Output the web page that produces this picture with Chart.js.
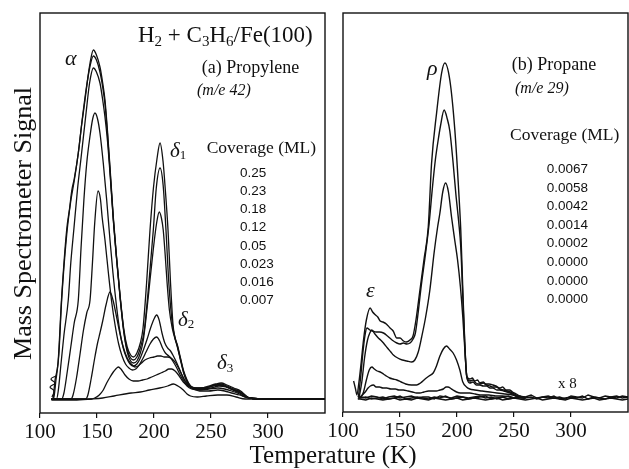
<!DOCTYPE html>
<html><head><meta charset="utf-8">
<script src="https://cdn.jsdelivr.net/npm/chart.js@4.4.1/dist/chart.umd.min.js"></script>
<style>
html,body{margin:0;padding:0;background:#fff;}
#wrap{position:relative;width:629px;height:469px;overflow:hidden;background:#fff;}
canvas{position:absolute;left:0;top:0;}
</style></head><body>
<div id="wrap"><canvas id="cA" width="629" height="469"></canvas><canvas id="cB" width="629" height="469"></canvas></div>
<script>
// ---------- tick labels / legends ----------
const tickTemps = [100, 150, 200, 250, 300];
const coverageA = ['0.25', '0.23', '0.18', '0.12', '0.05', '0.023', '0.016', '0.007'];
const coverageB = ['0.0067', '0.0058', '0.0042', '0.0014', '0.0002', '0.0000', '0.0000', '0.0000'];

// ---------- (a) Propylene m/e 42 : [T (K), signal] ----------
const propylene025 = [[110,14],[111.4,15],[113.2,33],[115.8,50],[119,116],[123.4,183],[126,205],[127.8,222],[130,234],[133.6,260],[136.5,288],[139.5,313],[141.7,333],[143.9,350],[146.8,363],[149.5,358],[152.6,346],[155,330],[157,313],[159.2,282],[161.4,246],[164.3,196],[167,158],[170.2,118],[173.5,84],[176.5,66],[179.5,58],[182,56],[185,60],[188,70],[190.4,85],[193.5,130],[196.5,183],[199.5,225],[202.6,254],[205.3,270],[207.9,252],[210,222],[212.3,183],[214.5,130],[216.7,88],[218.5,75],[220.5,68],[223,56],[226,42],[229,33],[232,27],[236,25],[242,25],[248,27],[254,29],[259,30],[264,28],[270,25],[276,22],[280,18],[284,15],[300,14],[350,14]];
const propylene023 = [[110,14],[112,15],[114,33],[116.5,58],[119,113],[123.4,178],[127,212],[130,232],[133.6,260],[137,293],[140,320],[143.9,347],[146.8,357],[149.5,353],[152.6,341],[155,326],[157,309],[159.2,279],[161.4,243],[164.3,194],[167,157],[170.2,117],[173.5,82],[176.5,63],[179.5,55],[182,53],[185,56],[188,65],[191.5,83],[195.5,130],[199.4,183],[202,225],[205.3,245],[208,228],[210.5,183],[213,130],[216,90],[218.5,75],[220.5,67],[223,55],[226,41],[229,32],[232,27],[236,24],[242,24],[248,26],[254,28],[259,29],[264,27],[270,24],[276,21],[280,17],[284,15],[300,14],[350,14]];
const propylene018 = [[110,14],[114.5,14],[116,22],[118.5,50],[121,78],[124.8,113],[127,150],[129.8,185],[133,225],[136,255],[140.4,300],[143.5,330],[146.8,345],[149.5,341],[152.6,330],[155,313],[157,296],[159.2,272],[161.4,240],[164.3,193],[167,156],[170.2,116],[173.5,81],[176.5,61],[179.5,52],[182,50],[185,52],[188,60],[190.5,72],[193,95],[196.5,133],[199.5,165],[202.3,190],[204.6,201],[206.5,195],[208.1,183],[210,155],[211.5,130],[213.5,103],[216,85],[218.5,74],[220.5,66],[223,54],[226,40],[229,31],[232,26],[236,24],[242,24],[248,26],[254,28],[259,28],[264,26],[270,23],[276,20],[280,17],[284,15],[300,14],[350,14]];
const propylene012 = [[110,14],[119,14],[121,20],[124,42],[127,66],[130,90],[133.6,113],[136,165],[138.5,213],[141,250],[144,278],[146.2,294],[148.2,300],[150.5,294],[152.6,280],[155.5,250],[158.5,213],[161.4,173],[164,140],[167,108],[170,82],[173,65],[176,55],[179,49],[182,47],[185,49],[188,55],[191,64],[194,74],[197,85],[200,94],[202.3,98],[204.5,93],[207,80],[209.5,70],[212,65],[214.5,62],[217,57],[220,50],[223,42],[226,34],[229,29],[233,26],[240,25],[248,26],[256,28],[262,27],[268,24],[275,21],[280,17],[284,15],[300,14],[350,14]];
const propylene005 = [[110,14],[127,14],[129,18],[132,35],[135,58],[138,82],[141,100],[143.9,113],[146,150],[148,190],[150.9,222],[153,214],[154.5,196],[157,173],[160,140],[163,110],[166,87],[169,69],[172,57],[175,49],[178,45],[181,43],[184,44],[187,48],[190,54],[193,61],[196.5,69],[199.5,74],[202.3,76],[205,72],[207.5,65],[210,60],[213,57],[216,54],[219,50],[222,44],[225,37],[228,31],[231,27],[235,25],[242,24],[250,25],[257,27],[263,26],[269,23],[275,20],[280,17],[284,15],[300,14],[350,14]];
const propylene0023 = [[110,14],[140,14],[142,18],[145,35],[148,55],[150.5,70],[152.6,80],[155,92],[157.9,108],[161.4,121],[164,113],[167.2,96],[170,80],[173,66],[176.5,55],[180,49],[183.3,46],[186,47],[189,50],[192,53],[196,55],[200,56],[203,57],[206,57],[209,56],[212,56],[214.5,55],[217,51],[220,45],[223,38],[226,32],[229,27],[233,24],[240,23],[248,24],[256,25],[262,24],[268,22],[275,19],[280,16],[284,15],[300,14],[350,14]];
const propylene0016 = [[110,14],[145,14],[148,15],[152,18],[155.5,23],[158.5,30],[161.5,36],[164.3,41],[166.5,44],[168.7,46],[171,44],[174.6,38],[178,34],[181.8,32],[186,32],[190,33],[194,34],[198,36],[202,38],[206,40],[210,42],[213,44],[215.5,44],[218.5,42],[221.5,38],[225.7,31],[230,27],[234.5,24],[240,22],[248,22],[256,23],[262,22],[268,20],[275,18],[280,16],[284,15],[300,14],[350,14]];
const propylene0007 = [[110,13],[130,13],[145,14],[155,15],[165,17],[180,20],[188,21],[196,23],[205,25],[212,27],[217,29],[221,27],[225.7,23],[229,19],[232,17],[238,16],[246,17],[256,18],[264,18],[272,16],[280,14],[300,14],[350,14]];
const propyleneStartWiggle = [[114,37],[109.6,34],[113.2,30],[108.8,26],[112.3,22],[110.5,16]];

// ---------- (b) Propane m/e 29 (x 8) ----------
const propane0067 = [[109.3,31],[111,23],[112.2,17],[114,30],[116,50],[118,72],[120.5,92],[123.8,104],[126,100],[128.5,97],[130.5,95],[132.6,91],[135,90],[138,88],[141.3,84],[144,81],[147.2,74],[150,74],[153,71],[155.5,70],[158.8,72],[161.4,76],[164,92],[167.5,122],[171,152],[174.8,185],[177.7,249],[182.1,299],[186.5,339],[189.3,349],[193.7,332],[198.1,282],[201.8,215],[203.3,182],[205.1,122],[206.8,70],[208.6,36],[211.2,33],[213.5,34],[215.5,31],[218,32],[220,29],[223,30],[225,28],[228,28],[231.5,27],[234,26],[237.4,24],[240,25],[243,22],[246,22],[248.7,20],[252,18],[255,16],[260,15]];
const propane0058 = [[113.5,15],[115.5,35],[117.5,60],[119.5,78],[121,84],[123.5,82],[126,81],[129,80],[132,80],[135.5,79],[139,76],[143,72],[147.2,69],[150,68],[153,69],[156,68],[158.8,69],[161.5,73],[163.5,79],[166,100],[168.5,125],[172,155],[175.5,188],[178.5,225],[181,252],[183.5,272],[185.5,286],[188.7,302],[191.5,293],[193.7,281],[196.6,249],[199,218],[201.5,190],[203.3,165],[205.1,115],[206.8,68],[208.6,35],[211.2,31],[214,32],[216.5,29],[220,28],[223,29],[226,27],[229,26],[231.5,25],[234.5,25],[237.4,23],[241,22],[244,21],[248.7,19],[252,17],[255,15],[260,14]];
const propane0042 = [[114,14],[116.5,30],[119,55],[121.5,72],[123.5,79],[125.3,82],[128,78],[131,74],[133,72],[135.5,69],[139,64],[142,60],[144.2,57],[148,54],[152,52],[156,51],[160.3,50],[163,52],[166,60],[169,75],[172.5,95],[176.2,122],[180,160],[183,185],[185,199],[187.5,220],[190,229],[192.5,220],[195.2,195],[198,172],[200.5,152],[203,125],[205.1,95],[207,60],[208.6,35],[211.2,29],[214,30],[217,27],[220,27],[223,26],[226,26],[229,24],[231.5,24],[235,22],[237.4,22],[241,21],[244,20],[248.7,18],[252,16],[255,15],[260,14]];
const propane0014 = [[115.5,14],[118,20],[120.5,32],[123,42],[125.3,45],[127.5,43],[130,41],[132.6,40],[135.5,38],[138,36],[141,34],[144,33],[147.2,32],[151,30],[155,28],[160,27],[164.6,27],[168,29],[172,33],[175.5,36],[179.1,39],[182,46],[185,56],[188,63],[190.8,66],[193.5,63],[196.6,59],[199.6,52],[202.5,42],[205.1,30],[208.3,25],[211.2,23],[215.5,22],[222,21],[228.6,20],[235,19],[242,18],[248.7,17],[254,15],[260,14]];
const propane0002 = [[114,14],[117,17],[119.5,20],[122,24],[124,26],[126.7,27],[129,25],[132,25],[135,24],[138.4,24],[142,23],[146,23],[149,22],[152.9,22],[157,21],[161,20],[164.5,19],[167.5,19],[171,20],[175,21],[179,21],[182,21],[185,22],[188,23],[190.5,25],[192.2,25],[194,24],[196.5,22],[199.6,20],[203,19],[207,19],[211.2,19],[216,18],[222,17],[228,17],[234,16],[240,16],[246,15],[252,14],[260,14]];
const baselineTemps = [113,115,120,125,130,135,140,145,150,155,160,165,170,175,180,185,190,195,200,205,210,215,220,225,230,235,240,245,250,255,260,265,270,275,280,285,290,295,300,305,310,315,320,325,330,335,340,345,350];
const propaneZeroA = [16,15,14,16,15,13,15,16,14,15,16,14,15,15,13,16,15,14,16,15,14,15,16,14,15,13,15,16,14,15,15,17,14,15,16,14,15,13,16,15,14,17,15,14,16,15,14,16,15];
const propaneZeroB = [13,13,12,14,13,12,13,14,12,13,12,14,13,12,14,13,12,13,14,12,13,14,13,12,13,14,12,13,14,13,12,13,14,12,13,14,13,12,14,13,12,13,14,12,13,14,13,12,13];
const propaneZeroC = [14,14,15,13,14,15,13,14,16,13,14,15,14,13,15,14,16,13,14,15,13,14,15,16,13,14,15,13,14,16,14,15,13,15,14,16,13,14,15,14,16,13,15,14,13,15,16,14,15];

// ---------- helpers ----------
const SERIF = '"Liberation Serif", "Times New Roman", serif';
const SANS = '"Liberation Sans", Arial, sans-serif';
const toXY = arr => arr.map(([x, y]) => ({x, y}));
const zip = (xs, ys) => xs.map((x, i) => ({x, y: ys[i]}));

function lineDs(data, w, extra) {
  return Object.assign({data, borderColor: '#111', borderWidth: w, pointRadius: 0,
    cubicInterpolationMode: 'monotone', fill: false}, extra || {});
}

function text(ctx, s, x, y, font, align) {
  ctx.font = font; ctx.textAlign = align || 'left'; ctx.textBaseline = 'alphabetic';
  ctx.fillText(s, x, y);
}
function subText(ctx, parts, x, y, mainFont, subFont, drop) {
  let cx = x;
  ctx.textAlign = 'left'; ctx.textBaseline = 'alphabetic';
  for (const [s, sub] of parts) {
    ctx.font = sub ? subFont : mainFont;
    ctx.fillText(s, cx, sub ? y + drop : y);
    cx += ctx.measureText(s).width;
  }
}

const framePlugin = {
  id: 'frame',
  afterDraw(chart) {
    const {ctx, chartArea: a} = chart;
    ctx.save(); ctx.strokeStyle = '#111'; ctx.lineWidth = 1.4;
    ctx.strokeRect(a.left, a.top, a.right - a.left, a.bottom - a.top);
    ctx.restore();
  }
};

function makeOptions(padLeft, padRight, xHeight, yMax) {
  return {
    responsive: false, animation: false, devicePixelRatio: 1,
    layout: {padding: {left: padLeft, right: padRight, top: 13, bottom: 0}},
    plugins: {legend: {display: false}, tooltip: {enabled: false}},
    scales: {
      x: {
        type: 'linear', min: 100, max: 350,
        afterBuildTicks: s => { s.ticks = tickTemps.map(v => ({value: v})); },
        afterFit: s => { s.height = xHeight; },
        grid: {display: true, drawOnChartArea: false, drawTicks: true, tickLength: 5, color: '#111', lineWidth: 1.2},
        border: {display: false},
        ticks: {color: '#111', font: {family: SERIF, size: 21}, padding: 2, maxRotation: 0, autoSkip: false}
      },
      y: {display: false, min: 0, max: yMax}
    }
  };
}

// ---------- left chart: (a) propylene ----------
const annotA = {
  id: 'annotA',
  afterDraw(chart) {
    const ctx = chart.ctx;
    ctx.save(); ctx.fillStyle = '#111';
    subText(ctx, [['H',0],['2',1],[' + ',0],['C',0],['3',1],['H',0],['6',1],['/Fe(100)',0]],
      138, 41.5, '23px ' + SERIF, '15px ' + SERIF, 4);
    text(ctx, '(a) Propylene', 201.7, 73, '18px ' + SERIF);
    text(ctx, '(m/e 42)', 197, 95, 'italic 16px ' + SERIF);
    text(ctx, 'Coverage (ML)', 206.7, 153, '17.5px ' + SERIF);
    coverageA.forEach((c, i) => text(ctx, c, 240, 176.5 + i * 18.25, '13.5px ' + SANS));
    text(ctx, 'α', 65, 65, 'italic 22px ' + SERIF);
    subText(ctx, [['δ',0],['1',1]], 170, 157, 'italic 21px ' + SERIF, '13px ' + SERIF, 2);
    subText(ctx, [['δ',0],['2',1]], 178, 326, 'italic 21px ' + SERIF, '13px ' + SERIF, 2);
    subText(ctx, [['δ',0],['3',1]], 217, 369, 'italic 21px ' + SERIF, '13px ' + SERIF, 3);
    // axis titles
    text(ctx, 'Temperature (K)', 333, 463, '25px ' + SERIF, 'center');
    ctx.translate(30.5, 223.5); ctx.rotate(-Math.PI / 2);
    text(ctx, 'Mass Spectrometer Signal', 0, 0, '26px ' + SERIF, 'center');
    ctx.restore();
  }
};

const leftCurves = [propylene025, propylene023, propylene018, propylene012, propylene005, propylene0023, propylene0016, propylene0007];
new Chart(document.getElementById('cA'), {
  type: 'line',
  data: {
    datasets: leftCurves.map(c => lineDs(toXY(c), 1.3)).concat([
      lineDs(toXY(propyleneStartWiggle), 1.2, {cubicInterpolationMode: 'default', tension: 0.4})
    ])
  },
  options: makeOptions(40, 629 - 325, 469 - 413, 400),
  plugins: [framePlugin, annotA]
});

// ---------- right chart: (b) propane ----------
const annotB = {
  id: 'annotB',
  afterDraw(chart) {
    const ctx = chart.ctx;
    ctx.save(); ctx.fillStyle = '#111';
    text(ctx, '(b) Propane', 511.7, 70, '18px ' + SERIF);
    text(ctx, '(m/e 29)', 515, 93, 'italic 16px ' + SERIF);
    text(ctx, 'Coverage (ML)', 510, 139.5, '17.5px ' + SERIF);
    coverageB.forEach((c, i) => text(ctx, c, 546.7, 173 + i * 18.6, '13.5px ' + SANS));
    text(ctx, 'ρ', 427, 75, 'italic 22px ' + SERIF);
    text(ctx, 'ε', 366, 297, 'italic 22px ' + SERIF);
    text(ctx, 'x 8', 558, 388, '15px ' + SERIF);
    ctx.restore();
  }
};

const rightCurves = [propane0067, propane0058, propane0042, propane0014, propane0002];
new Chart(document.getElementById('cB'), {
  type: 'line',
  data: {
    datasets: rightCurves.map(c => lineDs(toXY(c), 1.4)).concat([
      lineDs(zip(baselineTemps, propaneZeroA), 1.4, {cubicInterpolationMode: 'default', tension: 0}),
      lineDs(zip(baselineTemps, propaneZeroB), 1.4, {cubicInterpolationMode: 'default', tension: 0}),
      lineDs(zip(baselineTemps, propaneZeroC), 1.4, {cubicInterpolationMode: 'default', tension: 0})
    ])
  },
  options: makeOptions(343, 1, 469 - 412, 399),
  plugins: [framePlugin, annotB]
});
</script>
</body></html>
